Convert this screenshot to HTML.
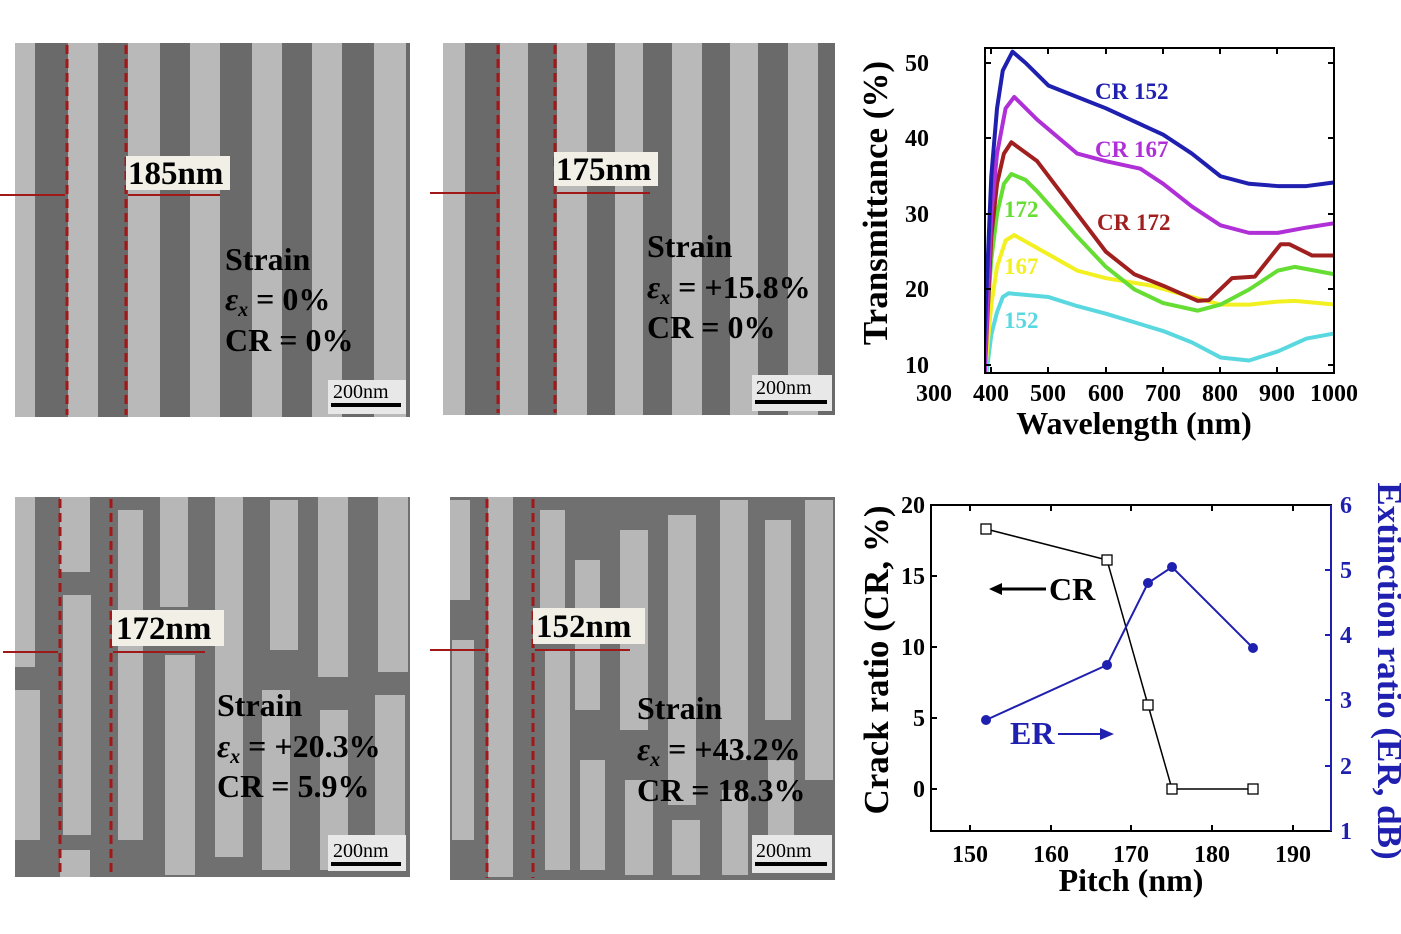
<!DOCTYPE html>
<html><head><meta charset="utf-8"><style>
html,body{margin:0;padding:0;background:#fff}
svg{display:block}
text{font-family:"Liberation Serif",serif;font-weight:bold}
</style></head><body>
<svg width="1401" height="934" viewBox="0 0 1401 934" xmlns="http://www.w3.org/2000/svg">
<defs>
<clipPath id="c1"><rect x="985" y="48" width="349" height="325"/></clipPath>
</defs>
<!-- SEM top-left -->
<rect x="15" y="43" width="395" height="374" fill="#6a6a6a"/>
<g fill="#b9b9b9">
<rect x="15" y="43" width="20" height="374"/>
<rect x="68" y="43" width="30" height="374"/><rect x="128" y="43" width="32" height="374"/>
<rect x="190" y="43" width="30" height="374"/><rect x="252" y="43" width="30" height="374"/>
<rect x="312" y="43" width="30" height="374"/><rect x="374" y="43" width="32" height="374"/>
</g>
<g stroke="#a01818" stroke-width="3" stroke-dasharray="9,5"><line x1="67" y1="45" x2="67" y2="415"/><line x1="126" y1="45" x2="126" y2="415"/></g>
<g stroke="#a01818" stroke-width="2"><line x1="0" y1="195" x2="65" y2="195"/><line x1="128" y1="195" x2="220" y2="195"/></g>
<rect x="126" y="156" width="104" height="34" fill="#f1efe6"/>
<text x="128" y="184" font-size="33">185nm</text>
<text x="225" y="270" font-size="32">Strain</text>
<text x="225" y="310" font-size="32"><tspan font-style="italic">ε<tspan font-size="20" dy="6">x</tspan></tspan><tspan dy="-6"> = 0%</tspan></text>
<text x="225" y="351" font-size="32">CR = 0%</text>
<rect x="328" y="380" width="78" height="34" fill="#e8e8e8"/>
<text x="333" y="398" font-size="20" style="font-weight:normal">200nm</text>
<rect x="331" y="403" width="70" height="4" fill="#000"/>
<!-- SEM top-right -->
<rect x="443" y="43" width="392" height="372" fill="#6a6a6a"/>
<g fill="#b9b9b9">
<rect x="443" y="43" width="22" height="372"/>
<rect x="500" y="43" width="28" height="372"/><rect x="557" y="43" width="30" height="372"/>
<rect x="615" y="43" width="28" height="372"/><rect x="672" y="43" width="30" height="372"/>
<rect x="730" y="43" width="28" height="372"/><rect x="788" y="43" width="30" height="372"/>
</g>
<g stroke="#a01818" stroke-width="3" stroke-dasharray="9,5"><line x1="498" y1="45" x2="498" y2="413"/><line x1="555" y1="45" x2="555" y2="413"/></g>
<g stroke="#a01818" stroke-width="2"><line x1="430" y1="193" x2="496" y2="193"/><line x1="557" y1="193" x2="650" y2="193"/></g>
<rect x="554" y="152" width="104" height="34" fill="#f1efe6"/>
<text x="556" y="180" font-size="33">175nm</text>
<text x="647" y="257" font-size="32">Strain</text>
<text x="647" y="298" font-size="32"><tspan font-style="italic">ε<tspan font-size="20" dy="6">x</tspan></tspan><tspan dy="-6"> = +15.8%</tspan></text>
<text x="647" y="338" font-size="32">CR = 0%</text>
<rect x="752" y="375" width="80" height="36" fill="#e8e8e8"/>
<text x="756" y="394" font-size="20" style="font-weight:normal">200nm</text>
<rect x="755" y="400" width="72" height="4" fill="#000"/>
<!-- SEM bottom-left -->
<rect x="15" y="497" width="395" height="380" fill="#707070"/>
<g fill="#b7b7b7">
<rect x="15" y="497" width="20" height="170"/><rect x="15" y="690" width="25" height="150"/>
<rect x="60" y="497" width="30" height="75"/><rect x="63" y="595" width="28" height="240"/><rect x="60" y="850" width="30" height="27"/>
<rect x="118" y="510" width="25" height="330"/>
<rect x="160" y="497" width="28" height="110"/><rect x="165" y="655" width="30" height="220"/>
<rect x="215" y="497" width="28" height="360"/>
<rect x="270" y="500" width="28" height="150"/><rect x="262" y="690" width="28" height="180"/>
<rect x="318" y="497" width="30" height="180"/><rect x="320" y="710" width="28" height="160"/>
<rect x="378" y="497" width="30" height="175"/><rect x="375" y="695" width="30" height="150"/>
</g>
<g stroke="#a01818" stroke-width="3" stroke-dasharray="9,5"><line x1="60" y1="499" x2="60" y2="875"/><line x1="111" y1="499" x2="111" y2="875"/></g>
<g stroke="#a01818" stroke-width="2"><line x1="3" y1="652" x2="58" y2="652"/><line x1="113" y1="652" x2="205" y2="652"/></g>
<rect x="112" y="610" width="112" height="36" fill="#f1efe6"/>
<text x="116" y="639" font-size="33">172nm</text>
<text x="217" y="716" font-size="32">Strain</text>
<text x="217" y="757" font-size="32"><tspan font-style="italic">ε<tspan font-size="20" dy="6">x</tspan></tspan><tspan dy="-6"> = +20.3%</tspan></text>
<text x="217" y="797" font-size="32">CR = 5.9%</text>
<rect x="328" y="835" width="78" height="36" fill="#e8e8e8"/>
<text x="333" y="857" font-size="20" style="font-weight:normal">200nm</text>
<rect x="331" y="862" width="70" height="4" fill="#000"/>
<!-- SEM bottom-right -->
<rect x="450" y="497" width="385" height="383" fill="#707070"/>
<g fill="#b7b7b7">
<rect x="450" y="500" width="20" height="100"/><rect x="452" y="640" width="22" height="200"/>
<rect x="488" y="497" width="25" height="380"/>
<rect x="540" y="510" width="25" height="100"/><rect x="545" y="650" width="25" height="220"/>
<rect x="575" y="560" width="25" height="150"/><rect x="580" y="760" width="25" height="110"/>
<rect x="620" y="530" width="28" height="200"/><rect x="625" y="780" width="28" height="95"/>
<rect x="668" y="515" width="28" height="290"/><rect x="672" y="820" width="28" height="55"/>
<rect x="720" y="500" width="28" height="260"/><rect x="722" y="790" width="26" height="85"/>
<rect x="765" y="520" width="26" height="200"/><rect x="768" y="760" width="26" height="110"/>
<rect x="805" y="500" width="28" height="280"/>
</g>
<g stroke="#a01818" stroke-width="3" stroke-dasharray="9,5"><line x1="487" y1="499" x2="487" y2="878"/><line x1="533" y1="499" x2="533" y2="878"/></g>
<g stroke="#a01818" stroke-width="2"><line x1="430" y1="650" x2="485" y2="650"/><line x1="535" y1="650" x2="630" y2="650"/></g>
<rect x="533" y="608" width="112" height="36" fill="#f1efe6"/>
<text x="536" y="637" font-size="33">152nm</text>
<text x="637" y="719" font-size="32">Strain</text>
<text x="637" y="760" font-size="32"><tspan font-style="italic">ε<tspan font-size="20" dy="6">x</tspan></tspan><tspan dy="-6"> = +43.2%</tspan></text>
<text x="637" y="801" font-size="32">CR = 18.3%</text>
<rect x="752" y="835" width="80" height="38" fill="#e8e8e8"/>
<text x="756" y="857" font-size="20" style="font-weight:normal">200nm</text>
<rect x="755" y="862" width="72" height="4" fill="#000"/>

<!-- Top chart -->
<g clip-path="url(#c1)" fill="none" stroke-width="4" stroke-linejoin="round">
<g transform="matrix(0.573 0 0 -7.55 762.1 440.5)">
<polyline vector-effect="non-scaling-stroke" stroke="#5ad8e0" points="390,8 400,14 410,17 420,19 430,19.5 500,19 550,17.8 600,16.8 700,14.5 750,13 780,11.8 800,11 850,10.6 900,11.8 950,13.5 1000,14.2"/>
<polyline vector-effect="non-scaling-stroke" stroke="#f2f020" points="388,8 400,18 410,23 425,26.5 440,27.2 480,25.5 550,22.5 600,21.5 680,20.5 750,19 800,18 850,18 900,18.4 930,18.5 1000,18"/>
<polyline vector-effect="non-scaling-stroke" stroke="#66dd33" points="385,8 400,24 410,30 422,34 435,35.3 460,34.5 480,33 550,27 600,23 650,20 700,18.2 760,17.2 800,18 850,20 900,22.5 930,23 1000,22"/>
<polyline vector-effect="non-scaling-stroke" stroke="#a02020" points="388,8 400,27 410,34 422,38 435,39.5 480,37 530,32 600,25 650,22 700,20.5 760,18.5 780,18.6 820,21.5 860,21.7 905,26 920,26 960,24.5 1000,24.5"/>
<polyline vector-effect="non-scaling-stroke" stroke="#b030d8" points="388,8 400,30 410,38 425,44 440,45.5 480,42.5 550,38 600,37 660,36 700,34 750,31 800,28.5 850,27.5 900,27.5 950,28.2 1000,28.8"/>
<polyline vector-effect="non-scaling-stroke" stroke="#2020b0" points="385,8 400,35 410,44 420,49 437,51.5 460,50 500,47 550,45.5 600,44 700,40.5 750,38 800,35 850,34 900,33.7 950,33.7 1000,34.2"/>
</g></g>
<rect x="985" y="48" width="349" height="325" fill="none" stroke="#000" stroke-width="2"/>
<g stroke="#000" stroke-width="2">
<line x1="985" y1="63" x2="991" y2="63"/><line x1="985" y1="138" x2="991" y2="138"/><line x1="985" y1="214" x2="991" y2="214"/><line x1="985" y1="289" x2="991" y2="289"/><line x1="985" y1="365" x2="991" y2="365"/>
<line x1="1334" y1="63" x2="1328" y2="63"/><line x1="1334" y1="138" x2="1328" y2="138"/><line x1="1334" y1="214" x2="1328" y2="214"/><line x1="1334" y1="289" x2="1328" y2="289"/><line x1="1334" y1="365" x2="1328" y2="365"/>
<line x1="991" y1="373" x2="991" y2="367"/><line x1="1048" y1="373" x2="1048" y2="367"/><line x1="1106" y1="373" x2="1106" y2="367"/><line x1="1163" y1="373" x2="1163" y2="367"/><line x1="1220" y1="373" x2="1220" y2="367"/><line x1="1277" y1="373" x2="1277" y2="367"/>
<line x1="991" y1="48" x2="991" y2="54"/><line x1="1048" y1="48" x2="1048" y2="54"/><line x1="1106" y1="48" x2="1106" y2="54"/><line x1="1163" y1="48" x2="1163" y2="54"/><line x1="1220" y1="48" x2="1220" y2="54"/><line x1="1277" y1="48" x2="1277" y2="54"/>
</g>
<g font-size="24" text-anchor="end">
<text x="929" y="71">50</text><text x="929" y="146">40</text><text x="929" y="222">30</text><text x="929" y="297">20</text><text x="929" y="373">10</text>
</g>
<g font-size="24" text-anchor="middle">
<text x="934" y="401">300</text><text x="991" y="401">400</text><text x="1048" y="401">500</text><text x="1106" y="401">600</text><text x="1163" y="401">700</text><text x="1220" y="401">800</text><text x="1277" y="401">900</text><text x="1334" y="401">1000</text>
</g>
<text x="1134" y="434" font-size="32" text-anchor="middle">Wavelength (nm)</text>
<text transform="translate(887,203) rotate(-90)" font-size="35" text-anchor="middle">Transmittance (%)</text>
<g font-size="23">
<text x="1095" y="99" fill="#2020b0">CR 152</text>
<text x="1095" y="157" fill="#b030d8">CR 167</text>
<text x="1097" y="230" fill="#a02020">CR 172</text>
<text x="1004" y="217" fill="#66dd33">172</text>
<text x="1004" y="274" fill="#f2f020">167</text>
<text x="1004" y="328" fill="#5ad8e0">152</text>
</g>

<!-- Bottom chart -->
<rect x="931" y="505" width="400" height="326" fill="none" stroke="#000" stroke-width="2"/>
<line x1="1331" y1="505" x2="1331" y2="831" stroke="#2020b0" stroke-width="2"/>
<g stroke="#000" stroke-width="2">
<line x1="931" y1="505" x2="937" y2="505"/><line x1="931" y1="576" x2="937" y2="576"/><line x1="931" y1="647" x2="937" y2="647"/><line x1="931" y1="718" x2="937" y2="718"/><line x1="931" y1="789" x2="937" y2="789"/>
<line x1="970" y1="831" x2="970" y2="825"/><line x1="1051" y1="831" x2="1051" y2="825"/><line x1="1131" y1="831" x2="1131" y2="825"/><line x1="1212" y1="831" x2="1212" y2="825"/><line x1="1293" y1="831" x2="1293" y2="825"/>
<line x1="970" y1="505" x2="970" y2="511"/><line x1="1051" y1="505" x2="1051" y2="511"/><line x1="1131" y1="505" x2="1131" y2="511"/><line x1="1212" y1="505" x2="1212" y2="511"/><line x1="1293" y1="505" x2="1293" y2="511"/>
</g>
<g stroke="#2020b0" stroke-width="2">
<line x1="1331" y1="570" x2="1325" y2="570"/><line x1="1331" y1="635" x2="1325" y2="635"/><line x1="1331" y1="700" x2="1325" y2="700"/><line x1="1331" y1="766" x2="1325" y2="766"/>
</g>
<g font-size="24" text-anchor="end">
<text x="925" y="513">20</text><text x="925" y="584">15</text><text x="925" y="655">10</text><text x="925" y="726">5</text><text x="925" y="797">0</text>
</g>
<g font-size="24" fill="#2020b0">
<text x="1340" y="513">6</text><text x="1340" y="578">5</text><text x="1340" y="643">4</text><text x="1340" y="708">3</text><text x="1340" y="774">2</text><text x="1340" y="839">1</text>
</g>
<g font-size="24" text-anchor="middle">
<text x="970" y="862">150</text><text x="1051" y="862">160</text><text x="1131" y="862">170</text><text x="1212" y="862">180</text><text x="1293" y="862">190</text>
</g>
<text x="1131" y="891" font-size="32" text-anchor="middle">Pitch (nm)</text>
<text transform="translate(888,660) rotate(-90)" font-size="35" text-anchor="middle">Crack ratio (CR, %)</text>
<text transform="translate(1378,671) rotate(90)" font-size="35" text-anchor="middle" fill="#2020b0">Extinction ratio (ER, dB)</text>
<polyline points="986,529 1107,560 1148,705 1172,789 1253,789" fill="none" stroke="#000" stroke-width="1.5"/>
<g fill="#fff" stroke="#000" stroke-width="1.3">
<rect x="981" y="524" width="10" height="10"/><rect x="1102" y="555" width="10" height="10"/><rect x="1143" y="700" width="10" height="10"/><rect x="1167" y="784" width="10" height="10"/><rect x="1248" y="784" width="10" height="10"/>
</g>
<polyline points="986,720 1107,665 1148,583 1172,567 1253,648" fill="none" stroke="#2020b0" stroke-width="2"/>
<g fill="#2020b0">
<circle cx="986" cy="720" r="5"/><circle cx="1107" cy="665" r="5"/><circle cx="1148" cy="583" r="5"/><circle cx="1172" cy="567" r="5"/><circle cx="1253" cy="648" r="5"/>
</g>
<line x1="997" y1="589" x2="1046" y2="589" stroke="#000" stroke-width="3"/>
<polygon points="989,589 1002,583 1002,595" fill="#000"/>
<text x="1049" y="600" font-size="32">CR</text>
<text x="1010" y="744" font-size="32" fill="#2020b0">ER</text>
<line x1="1058" y1="734" x2="1105" y2="734" stroke="#2020b0" stroke-width="2"/>
<polygon points="1114,734 1100,728 1100,740" fill="#2020b0"/>
</svg>
</body></html>
